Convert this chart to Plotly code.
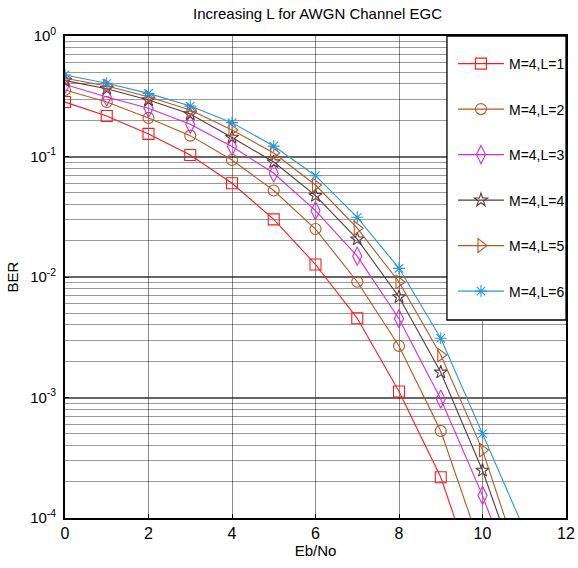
import plotly.graph_objects as go

# Eb/No grid (dB) and simulated BER for M=4 with increasing diversity order L
ebno_db = [0, 1, 2, 3, 4, 5, 6, 7, 8, 9, 10, 11]

series_names = ["M=4,L=1", "M=4,L=2", "M=4,L=3", "M=4,L=4", "M=4,L=5", "M=4,L=6"]

ber_L1 = [0.283, 0.217, 0.154, 0.103, 0.060, 0.0301, 0.0127, 0.00454, 0.00112, 0.000218, 2.1e-5]
ber_L2 = [0.356, 0.283, 0.209, 0.149, 0.0935, 0.0522, 0.0250, 0.00914, 0.00268, 0.000527, 5.2e-5]
ber_L3 = [0.396, 0.312, 0.251, 0.185, 0.121, 0.0726, 0.0355, 0.0149, 0.00451, 0.00097, 0.000154, 1.8e-5]
ber_L4 = [0.426, 0.365, 0.294, 0.225, 0.144, 0.090, 0.0473, 0.0206, 0.00683, 0.00162, 0.000248, 2.6e-5]
ber_L5 = [0.446, 0.385, 0.313, 0.243, 0.166, 0.107, 0.058, 0.0254, 0.0091, 0.00225, 0.000366, 3.3e-5]
ber_L6 = [0.475, 0.405, 0.334, 0.262, 0.191, 0.122, 0.0693, 0.0313, 0.0118, 0.0031, 0.000501, 8.0e-5]

y_tick_vals = [1, 0.1, 0.01, 0.001, 0.0001]
y_tick_text = ["10<sup>0</sup>", "10<sup>-1</sup>", "10<sup>-2</sup>", "10<sup>-3</sup>", "10<sup>-4</sup>"]

ber_all = [ber_L1, ber_L2, ber_L3, ber_L4, ber_L5, ber_L6]
colors = ["#FF1A1A", "#B8561E", "#D62AD6", "#5A3A3A", "#B8561E", "#2A96D6"]
symbols = ["square-open", "circle-open", "diamond-tall-open", "star-open",
           "triangle-right-open", "asterisk-open"]
sizes = [11, 11, 13, 10, 12, 10]

FONT = "Liberation Sans, Arial, Helvetica, sans-serif"
W, H = 578, 568
PLOT_W, PLOT_H = 505, 482

fig = go.Figure()
for name, ber, c, sym, sz in zip(series_names, ber_all, colors, symbols, sizes):
    fig.add_trace(go.Scatter(
        x=ebno_db[:len(ber)], y=ber, name=name, legendgroup=name,
        mode="lines+markers",
        line=dict(color=c, width=1.1),
        marker=dict(symbol=sym, size=sz, color=c, line=dict(color=c, width=1.1)),
    ))

minor_vals = [m * 10 ** e for e in range(-4, 0) for m in range(2, 10)]

fig.update_layout(
    width=W, height=H,
    margin=dict(l=65, r=8, t=36, b=50),
    paper_bgcolor="white", plot_bgcolor="white",
    font=dict(family=FONT, color="black"),
    title=dict(text="Increasing L for AWGN Channel EGC", font=dict(size=15),
               x=317.5 / W, xanchor="center", y=1 - 14 / H, yanchor="middle"),
    xaxis=dict(
        range=[0, 12], tick0=0, dtick=2, showgrid=True, automargin=False,
        gridcolor="rgba(0,0,0,0.45)", gridwidth=1, zeroline=False,
        showline=True, linecolor="black", linewidth=1.6, mirror=True,
        ticks="inside", ticklen=4, tickcolor="black",
        tickfont=dict(size=16),
        title=dict(text="Eb/No", font=dict(size=15), standoff=4),
    ),
    yaxis=dict(
        type="log", range=[-4, 0], tickmode="array", automargin=False,
        tickvals=y_tick_vals, ticktext=y_tick_text,
        showgrid=True, gridcolor="rgba(0,0,0,0.6)", gridwidth=1.6,
        zeroline=False, showline=True, linecolor="black", linewidth=1.6,
        mirror=True, ticks="inside", ticklen=4, tickcolor="black",
        tickfont=dict(size=15), ticklabelstandoff=4,
        minor=dict(tickmode="array", tickvals=minor_vals, showgrid=True,
                   gridcolor="rgba(0,0,0,0.4)", gridwidth=1, ticks=""),
        title=dict(text="BER", font=dict(size=15), standoff=8),
    ),
    showlegend=True,
    legend=dict(
        x=1 + 4 / PLOT_W, xanchor="right", y=1 - 12 / PLOT_H, yanchor="top",
        bgcolor="rgba(0,0,0,0)", borderwidth=0,
        font=dict(size=14), tracegroupgap=24.3, itemwidth=46,
    ),
    shapes=[dict(type="rect", xref="paper", yref="paper",
                 x0=(450 - 65) / PLOT_W, x1=1, y0=(518 - 320) / PLOT_H, y1=1,
                 line=dict(color="black", width=1.3), fillcolor="white",
                 layer="above")],
)

fig.write_html("out.html")
